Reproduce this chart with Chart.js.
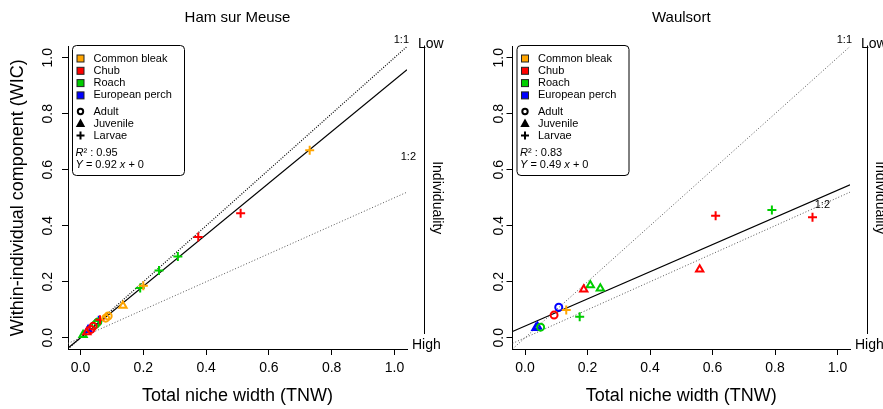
<!DOCTYPE html>
<html>
<head>
<meta charset="utf-8">
<script src="https://cdn.jsdelivr.net/npm/chart.js@4.4.1/dist/chart.umd.min.js"></script>
<style>
  body { margin: 0; background: #fff; }
  #wrap { position: relative; width: 883px; height: 409px; overflow: hidden; }
  canvas { position: absolute; top: 0; }
  #ham { left: 0; }
  #waul { left: 441px; }
</style>
</head>
<body>
<div id="wrap">
  <canvas id="ham" width="470" height="409"></canvas>
  <canvas id="waul" width="442" height="409"></canvas>
</div>
<script>
// categories
const species = ['Common bleak', 'Chub', 'Roach', 'European perch'];
const stages = ['Adult', 'Juvenile', 'Larvae'];
const axisTicks = [0, 0.2, 0.4, 0.6, 0.8, 1.0];

// Ham sur Meuse (species / stage index, TNW, WIC)
const hamSpecies = [0, 1, 1, 2, 2, 2, 0, 0, 0, 0, 1, 2, 2, 1, 1, 3, 3, 2, 1];
const hamStage   = [2, 2, 2, 2, 2, 2, 2, 1, 0, 0, 2, 0, 0, 0, 0, 1, 2, 1, 1];
const hamTNW = [0.73, 0.51, 0.375, 0.31, 0.25, 0.19, 0.20, 0.135, 0.088, 0.08, 0.062, 0.055, 0.048, 0.04, 0.033, 0.024, 0.058, 0.008, 0.02];
const hamWIC = [0.67, 0.445, 0.36, 0.29, 0.24, 0.178, 0.186, 0.115, 0.078, 0.07, 0.064, 0.056, 0.048, 0.041, 0.03, 0.028, 0.063, 0.01, 0.02];
const hamFit = [0.92, 0];     // slope, intercept
const hamR2 = '0.95';

// Waulsort
const waulSpecies = [2, 1, 1, 1, 2, 2, 1, 3, 0, 1, 2, 2, 3, 3];
const waulStage   = [2, 2, 2, 1, 1, 1, 1, 0, 2, 0, 2, 0, 1, 1];
const waulTNW = [0.79, 0.61, 0.92, 0.559, 0.209, 0.241, 0.188, 0.108, 0.132, 0.093, 0.175, 0.05, 0.04, 0.035];
const waulWIC = [0.456, 0.436, 0.43, 0.244, 0.188, 0.176, 0.173, 0.109, 0.099, 0.081, 0.075, 0.038, 0.04, 0.035];
const waulFit = [0.485, 0.042];
const waulEq = [0.49, 0];
const waulR2 = '0.83';

const speciesColors = ['#FFA500', '#FF0000', '#00CD00', '#0000FF'];
const stageStyles = ['circle', 'triangle', 'cross'];
const stageRadius = [3.5, 4.2, 4.5];
const FONT = '"Liberation Sans", Arial, sans-serif';
const LO = -0.04, HI = 1.04;

function pointSets(tnw, wic, sp, st) {
  const sets = [];
  species.forEach((name, si) => stages.forEach((stage, ti) => {
    const data = [];
    tnw.forEach((x, i) => { if (sp[i] === si && st[i] === ti) data.push({ x: x, y: wic[i] }); });
    if (data.length) sets.push({
      type: 'scatter', label: name + ' ' + stage, data: data, order: 1,
      pointStyle: stageStyles[ti], pointRadius: stageRadius[ti],
      borderColor: speciesColors[si], backgroundColor: 'rgba(0,0,0,0)', pointBorderWidth: 2
    });
  }));
  return sets;
}

function refLine(slope, icpt, color, width, dash) {
  return {
    type: 'line', data: [{ x: LO, y: icpt + slope * LO }, { x: HI, y: icpt + slope * HI }],
    borderColor: color, borderWidth: width, borderDash: dash, pointRadius: 0, order: 2
  };
}

function roundRect(ctx, x, y, w, h, r) {
  ctx.beginPath();
  ctx.moveTo(x + r, y);
  ctx.arcTo(x + w, y, x + w, y + h, r);
  ctx.arcTo(x + w, y + h, x, y + h, r);
  ctx.arcTo(x, y + h, x, y, r);
  ctx.arcTo(x, y, x + w, y, r);
  ctx.closePath();
}

const decor = {
  id: 'decor',
  afterDraw(chart, args, o) {
    const { ctx, chartArea: a } = chart;
    ctx.save();
    ctx.fillStyle = '#000';
    ctx.strokeStyle = '#000';
    ctx.lineWidth = 1;

    // panel title, centred on the plot region
    ctx.font = '15px ' + FONT;
    ctx.textAlign = 'center';
    ctx.textBaseline = 'middle';
    ctx.fillText(o.title, (a.left + a.right) / 2, 18);

    // individuality bar
    ctx.font = '14px ' + FONT;
    ctx.beginPath();
    ctx.moveTo(a.right + 17.5, a.top - 1);
    ctx.lineTo(a.right + 17.5, a.bottom - 15);
    ctx.stroke();
    ctx.textAlign = 'left';
    ctx.fillText('Low', a.right + 11, a.top - 2);
    ctx.fillText('High', a.right + 5, a.bottom - 4);
    ctx.save();
    ctx.translate(a.right + 30, (a.top + a.bottom) / 2);
    ctx.rotate(Math.PI / 2);
    ctx.textAlign = 'center';
    ctx.fillText('Individuality', 0, 0);
    ctx.restore();

    // ratio labels
    ctx.font = '11px ' + FONT;
    ctx.textAlign = 'right';
    ctx.fillText('1:1', a.right + 2, a.top - 7);
    ctx.fillText('1:2', o.halfX, o.halfY);

    // legend
    const bx = a.left + 4.5, by = 45.5, bw = 112, bh = 130;
    roundRect(ctx, bx, by, bw, bh, 4);
    ctx.fillStyle = '#fff';
    ctx.fill();
    ctx.strokeStyle = '#000';
    ctx.stroke();
    ctx.textAlign = 'left';
    ctx.font = '11px ' + FONT;
    species.forEach((name, i) => {
      const yy = by + 13 + i * 12.3;
      ctx.fillStyle = speciesColors[i];
      ctx.fillRect(bx + 4.5, yy - 3.5, 7, 7);
      ctx.strokeStyle = '#222';
      ctx.strokeRect(bx + 4.5, yy - 3.5, 7, 7);
      ctx.fillStyle = '#000';
      ctx.fillText(name, bx + 21, yy);
    });
    ctx.strokeStyle = '#000';
    ctx.lineWidth = 2;
    stages.forEach((name, i) => {
      const yy = by + 66 + i * 12;
      const cx = bx + 8;
      ctx.beginPath();
      if (i === 0) {
        ctx.arc(cx, yy, 2.7, 0, Math.PI * 2);
        ctx.stroke();
      } else if (i === 1) {
        ctx.moveTo(cx, yy - 3); ctx.lineTo(cx + 3, yy + 2.5); ctx.lineTo(cx - 3, yy + 2.5); ctx.closePath();
        ctx.fill(); ctx.stroke();
      } else {
        ctx.moveTo(cx - 4, yy); ctx.lineTo(cx + 4, yy);
        ctx.moveTo(cx, yy - 4); ctx.lineTo(cx, yy + 4);
        ctx.stroke();
      }
      ctx.fillText(name, bx + 21, yy);
    });
    // statistics
    let x = bx + 3;
    let y = by + 107;
    const seg = (t, it) => {
      ctx.font = (it ? 'italic ' : '') + '11px ' + FONT;
      ctx.fillText(t, x, y);
      x += ctx.measureText(t).width;
    };
    seg('R', true); seg('\u00B2 : ' + o.r2, false);
    x = bx + 3; y = by + 119;
    seg('Y', true); seg(' = ' + o.eq[0].toFixed(2) + ' ', false); seg('x', true); seg(' + ' + o.eq[1], false);
    ctx.restore();
  }
};

function makeChart(id, opt) {
  const yScale = {
    type: 'linear', min: LO, max: HI,
    afterBuildTicks: s => { s.ticks = axisTicks.map(v => ({ value: v })); },
    afterFit: s => { s.width = opt.yWidth; },
    ticks: {
      color: '#000', font: { size: 14, family: FONT }, minRotation: 90, maxRotation: 90,
      crossAlign: 'center', padding: opt.yPad, callback: v => v.toFixed(1)
    },
    grid: { display: true, drawOnChartArea: false, drawTicks: true, tickLength: 6, color: '#000', tickColor: '#000' },
    border: { display: true, color: '#000', width: 1 },
    title: { display: !!opt.yTitle, text: opt.yTitle || '', color: '#000', font: { size: 18, family: FONT }, padding: { top: 7.5, bottom: 0 } }
  };
  const xScale = {
    type: 'linear', min: LO, max: HI,
    afterBuildTicks: s => { s.ticks = axisTicks.map(v => ({ value: v })); },
    afterFit: s => { s.height = 60; },
    ticks: { color: '#000', font: { size: 14, family: FONT }, maxRotation: 0, padding: 5, callback: v => v.toFixed(1) },
    grid: { display: true, drawOnChartArea: false, drawTicks: true, tickLength: 6, color: '#000', tickColor: '#000' },
    border: { display: true, color: '#000', width: 1 },
    title: { display: true, text: 'Total niche width (TNW)', color: '#000', font: { size: 18, family: FONT }, padding: { top: 0, bottom: 2 } }
  };
  return new Chart(document.getElementById(id), {
    type: 'scatter',
    data: { datasets: opt.lines.concat(pointSets(opt.tnw, opt.wic, opt.sp, opt.st)) },
    options: {
      responsive: false, animation: false, devicePixelRatio: 1,
      layout: { padding: { left: 0, right: opt.padRight, top: 46.5, bottom: 0 } },
      scales: { x: xScale, y: yScale },
      plugins: {
        legend: { display: false },
        tooltip: { enabled: false },
        title: { display: false },
        decor: { title: opt.title, r2: opt.r2, eq: opt.eq, halfX: opt.halfX, halfY: opt.halfY }
      }
    },
    plugins: [decor]
  });
}

makeChart('ham', {
  title: 'Ham sur Meuse', yTitle: 'Within-individual component (WIC)',
  yWidth: 68, yPad: 4, padRight: 63,
  tnw: hamTNW, wic: hamWIC, sp: hamSpecies, st: hamStage,
  r2: hamR2, eq: hamFit, halfX: 416, halfY: 157,
  lines: [
    refLine(1, 0, '#000', 1.2, [1, 1.5]),
    refLine(0.5, 0, '#555', 1, [1, 2]),
    refLine(hamFit[0], hamFit[1], '#000', 1.2, [])
  ]
});

makeChart('waul', {
  title: 'Waulsort', yTitle: '',
  yWidth: 71.5, yPad: -2, padRight: 33,
  tnw: waulTNW, wic: waulWIC, sp: waulSpecies, st: waulStage,
  r2: waulR2, eq: waulEq, halfX: 389, halfY: 205,
  lines: [
    refLine(1, 0, '#555', 1, [1, 2]),
    refLine(0.5, 0, '#555', 1, [1, 2]),
    refLine(waulFit[0], waulFit[1], '#000', 1.2, [])
  ]
});
</script>
</body>
</html>
